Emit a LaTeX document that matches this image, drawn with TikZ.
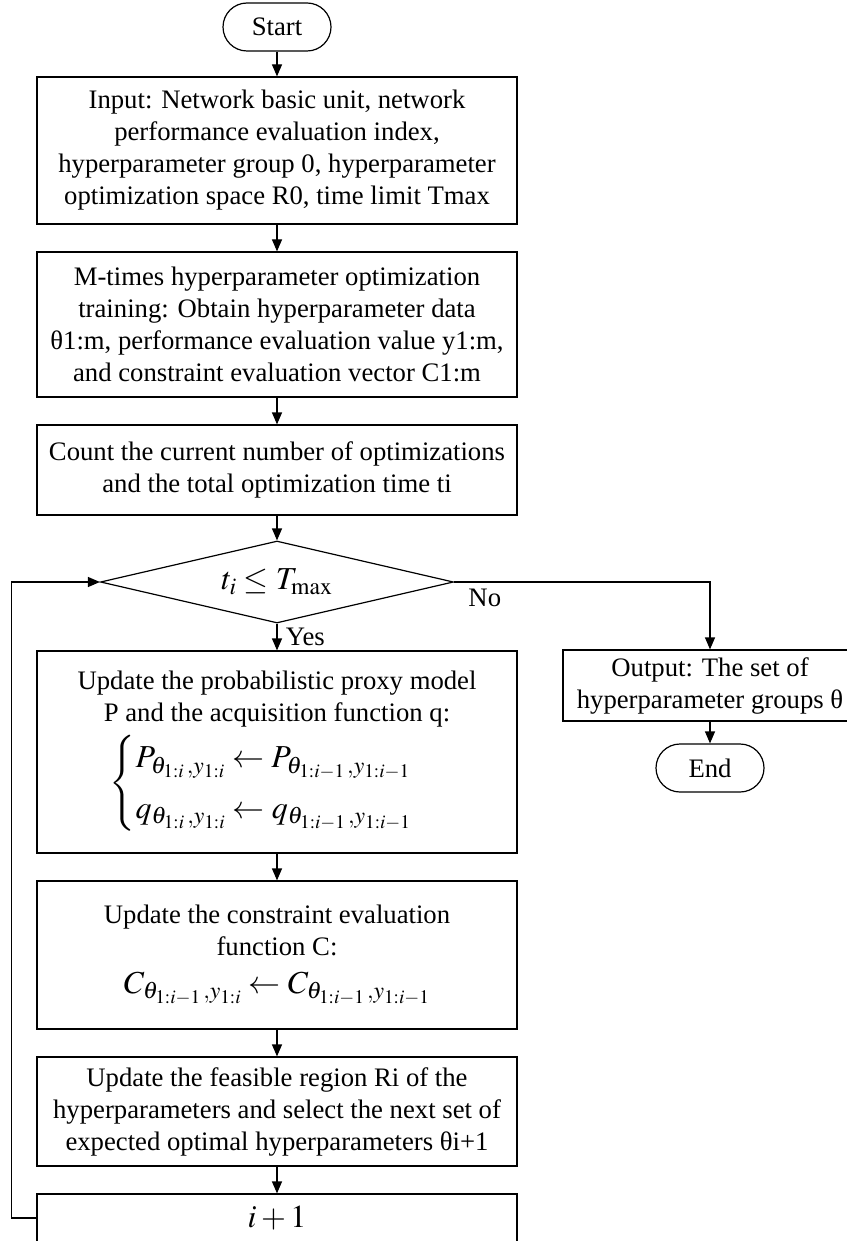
\documentclass[tikz,border=0pt]{standalone}
\usepackage{amsmath}
\usepackage{mathptmx}
\usepackage[no-math]{fontspec}
\setmainfont{Liberation Serif}
\usepackage{tikz}
\usetikzlibrary{arrows.meta,positioning,shapes.geometric}
\tikzset{
    >={Triangle[length=12pt,width=10pt]},
    every picture/.style={line width=1.2pt},
    box/.style={rectangle,draw,align=center,inner sep=0pt,minimum width=480pt},
    term/.style={rectangle,draw,rounded corners=24pt,minimum width=108pt,minimum height=48pt,inner sep=0pt},
    test/.style={diamond,draw,aspect=4.3,minimum width=353pt,minimum height=82pt,inner sep=0pt}
}
\newcommand{\bigmath}{\fontsize{32}{42}\selectfont}
\newcommand{\sub}[2]{{\theta_{#1}\,,y_{#2}}}

\begin{document}
\begin{tikzpicture}[x=1pt,y=-1pt,font=\fontsize{26.7}{32}\selectfont]
    \useasboundingbox (0,0) rectangle (846,1241);

    % Main column
    \node[term] (start) at (277,27) {Start};
    \node[box,minimum height=147pt] (input) at (277,150.5)
        {Input: Network basic unit, network\\performance evaluation index,\\hyperparameter group 0, hyperparameter\\optimization space R0, time limit Tmax};
    \node[box,minimum height=145pt] (train) at (277,324.5)
        {M-times hyperparameter optimization\\training: Obtain hyperparameter data\\θ1:m, performance evaluation value y1:m,\\and constraint evaluation vector C1:m};
    \node[box,minimum height=90pt] (count) at (277,470)
        {Count the current number of optimizations\\and the total optimization time ti};
    \node[test] (cond) at (277,582) {\bigmath$t_i \le T_{\max}$};
    \node[box,minimum height=202pt] (proxy) at (277,752)
        {Update the probabilistic proxy model\\P and the acquisition function q:\\[5pt]
        {\bigmath$\begin{cases}
            P_{\sub{1:i}{1:i}} \leftarrow P_{\sub{1:i-1}{1:i-1}}\\
            q_{\sub{1:i}{1:i}} \leftarrow q_{\sub{1:i-1}{1:i-1}}
        \end{cases}$}};
    \node[box,minimum height=148pt] (constr) at (277,955)
        {Update the constraint evaluation\\function C:\\[6pt]
        {\bigmath$C_{\sub{1:i-1}{1:i}} \leftarrow C_{\sub{1:i-1}{1:i-1}}$}};
    \node[box,minimum height=109pt] (region) at (277,1111.5)
        {Update the feasible region Ri of the\\hyperparameters and select the next set of\\expected optimal hyperparameters θi+1};
    \node[box,minimum height=48pt] (incr) at (277,1218) {\bigmath$i+1$};

    % Exit branch
    \node[box,minimum width=294pt,minimum height=71pt] (out) at (710,685.5)
        {Output: The set of\\hyperparameter groups θ};
    \node[term] (stop) at (710,768) {End};

    \draw[->] (start) -- (input);
    \draw[->] (input) -- (train);
    \draw[->] (train) -- (count);
    \draw[->] (count) -- (cond);
    \draw[->] (cond) -- node[right=5pt]{Yes} (proxy);
    \draw[->] (proxy) -- (constr);
    \draw[->] (constr) -- (region);
    \draw[->] (region) -- (incr);
    \draw[->] (incr.west) -- ++(-25,0) |- (cond.west);
    \draw[->] (cond.east) -| node[pos=0.06,below=3pt]{No} (out);
    \draw[->] (out) -- (stop);
\end{tikzpicture}
\end{document}
